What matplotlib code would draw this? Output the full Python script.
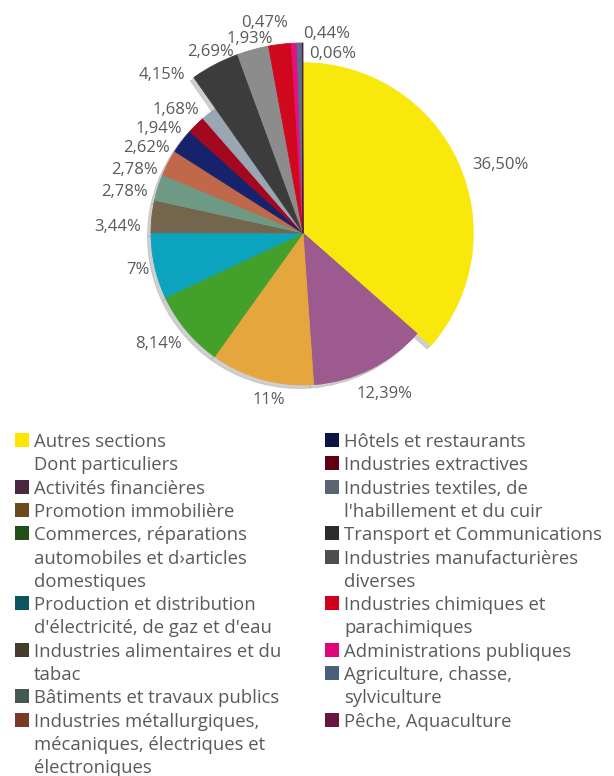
import matplotlib
matplotlib.use('Agg')
import matplotlib.pyplot as plt
from matplotlib.patches import Rectangle

# ---------------- data ----------------
categories = [
    'Autres sections',
    'Activités financières',
    'Promotion immobilière',
    'Commerces, réparations\nautomobiles et d›articles\ndomestiques',
    "Production et distribution\nd'électricité, de gaz et d'eau",
    'Industries alimentaires et du\ntabac',
    'Bâtiments et travaux publics',
    'Industries métallurgiques,\nmécaniques, électriques et\nélectroniques',
    'Hôtels et restaurants',
    'Industries extractives',
    "Industries textiles, de\nl'habillement et du cuir",
    'Transport et Communications',
    'Industries manufacturières\ndiverses',
    'Industries chimiques et\nparachimiques',
    'Administrations publiques',
    'Agriculture, chasse,\nsylviculture',
    'Pêche, Aquaculture',
]
values = [36.50, 12.39, 11.00, 8.14, 7.00, 3.44, 2.78, 2.78, 2.62, 1.94,
          1.68, 4.15, 2.69, 1.93, 0.47, 0.44, 0.06]
value_labels = ['36,50%', '12,39%', '11%', '8,14%', '7%', '3,44%', '2,78%',
                '2,78%', '2,62%', '1,94%', '1,68%', '4,15%', '2,69%', '1,93%',
                '0,47%', '0,44%', '0,06%']
legend_only_label = 'Dont particuliers'   # text-only legend entry after the first

# ---------------- styles ----------------
slice_colors = ['#F8E80C', '#9C5A8F', '#E5A63E', '#43A12B', '#0BA3BE',
                '#74664C', '#6E9A85', '#C0684A', '#16236C', '#A3081F',
                '#9AA7B3', '#3C3C3C', '#8C8C8C', '#D0081E', '#E5107E',
                '#55708A', '#5A1838']
legend_colors = ['#FFE600', '#4B2842', '#6B4A1C', '#234F18', '#0B5460',
                 '#463C2A', '#44594F', '#7A3A2A', '#0B1445', '#600010',
                 '#5A6470', '#2C2C2C', '#4E4E4E', '#D0021B', '#E0067A',
                 '#4A6078', '#6A1240']
text_color = '#5a5a5a'
font = ['Open Sans', 'DejaVu Sans']

W, H = 614, 776
fig = plt.figure(figsize=(W / 100, H / 100), dpi=100)
ax = fig.add_axes([0, 0, 1, 1])

# pie layout (pixel units)
cx, cy, R = 303, H - 233, 152
explode = [0.033] + [0] * (len(values) - 1)
radius_scale = [1.12] + [1.0] * 10 + [1.25] * 6

wedges, _ = ax.pie(values, colors=slice_colors, startangle=90,
                   counterclock=False, radius=R, center=(cx, cy),
                   explode=explode,
                   shadow={'ox': -2.5, 'oy': -2.5, 'facecolor': '#b0b0b0',
                           'edgecolor': '#b0b0b0', 'alpha': 0.6},
                   wedgeprops=dict(linewidth=0.6))
for w, c, s in zip(wedges, slice_colors, radius_scale):
    w.set_edgecolor(c)
    w.set_radius(R * s)

# value labels (pixel positions, from top-left)
label_pos = [(500, 163), (385, 392), (269, 398), (158, 342), (138, 268),
             (118, 225), (125, 190), (135, 168), (147, 146), (159, 127),
             (176, 108), (162, 73), (211, 50), (250, 37), (265, 21),
             (327, 32), (333, 52)]
for (px, py), lbl in zip(label_pos, value_labels):
    ax.text(px, H - py, lbl, ha='center', va='center_baseline',
            fontsize=12, color=text_color, family=font)

# legend (manual, two columns)
entries = [(categories[0], legend_colors[0]), (legend_only_label, None)] + \
          list(zip(categories[1:], legend_colors[1:]))
left_col, right_col = entries[:9], entries[9:]
line_h, y0 = 23.3, 440
for col, (mx, tx) in zip([left_col, right_col], [(15, 34), (325, 344)]):
    k = 0
    for text, color in col:
        y = y0 + k * line_h
        if color is not None:
            ax.add_patch(Rectangle((mx, H - y - 7), 14, 14, facecolor=color,
                                   edgecolor='none'))
        for j, line in enumerate(text.split('\n')):
            ax.text(tx, H - (y + j * line_h), line, ha='left',
                    va='center_baseline', fontsize=13.3, color=text_color,
                    family=font)
        k += len(text.split('\n'))

ax.set_xlim(0, W)
ax.set_ylim(0, H)
ax.set_aspect('auto')
ax.axis('off')
fig.savefig('out.png', dpi=100)
